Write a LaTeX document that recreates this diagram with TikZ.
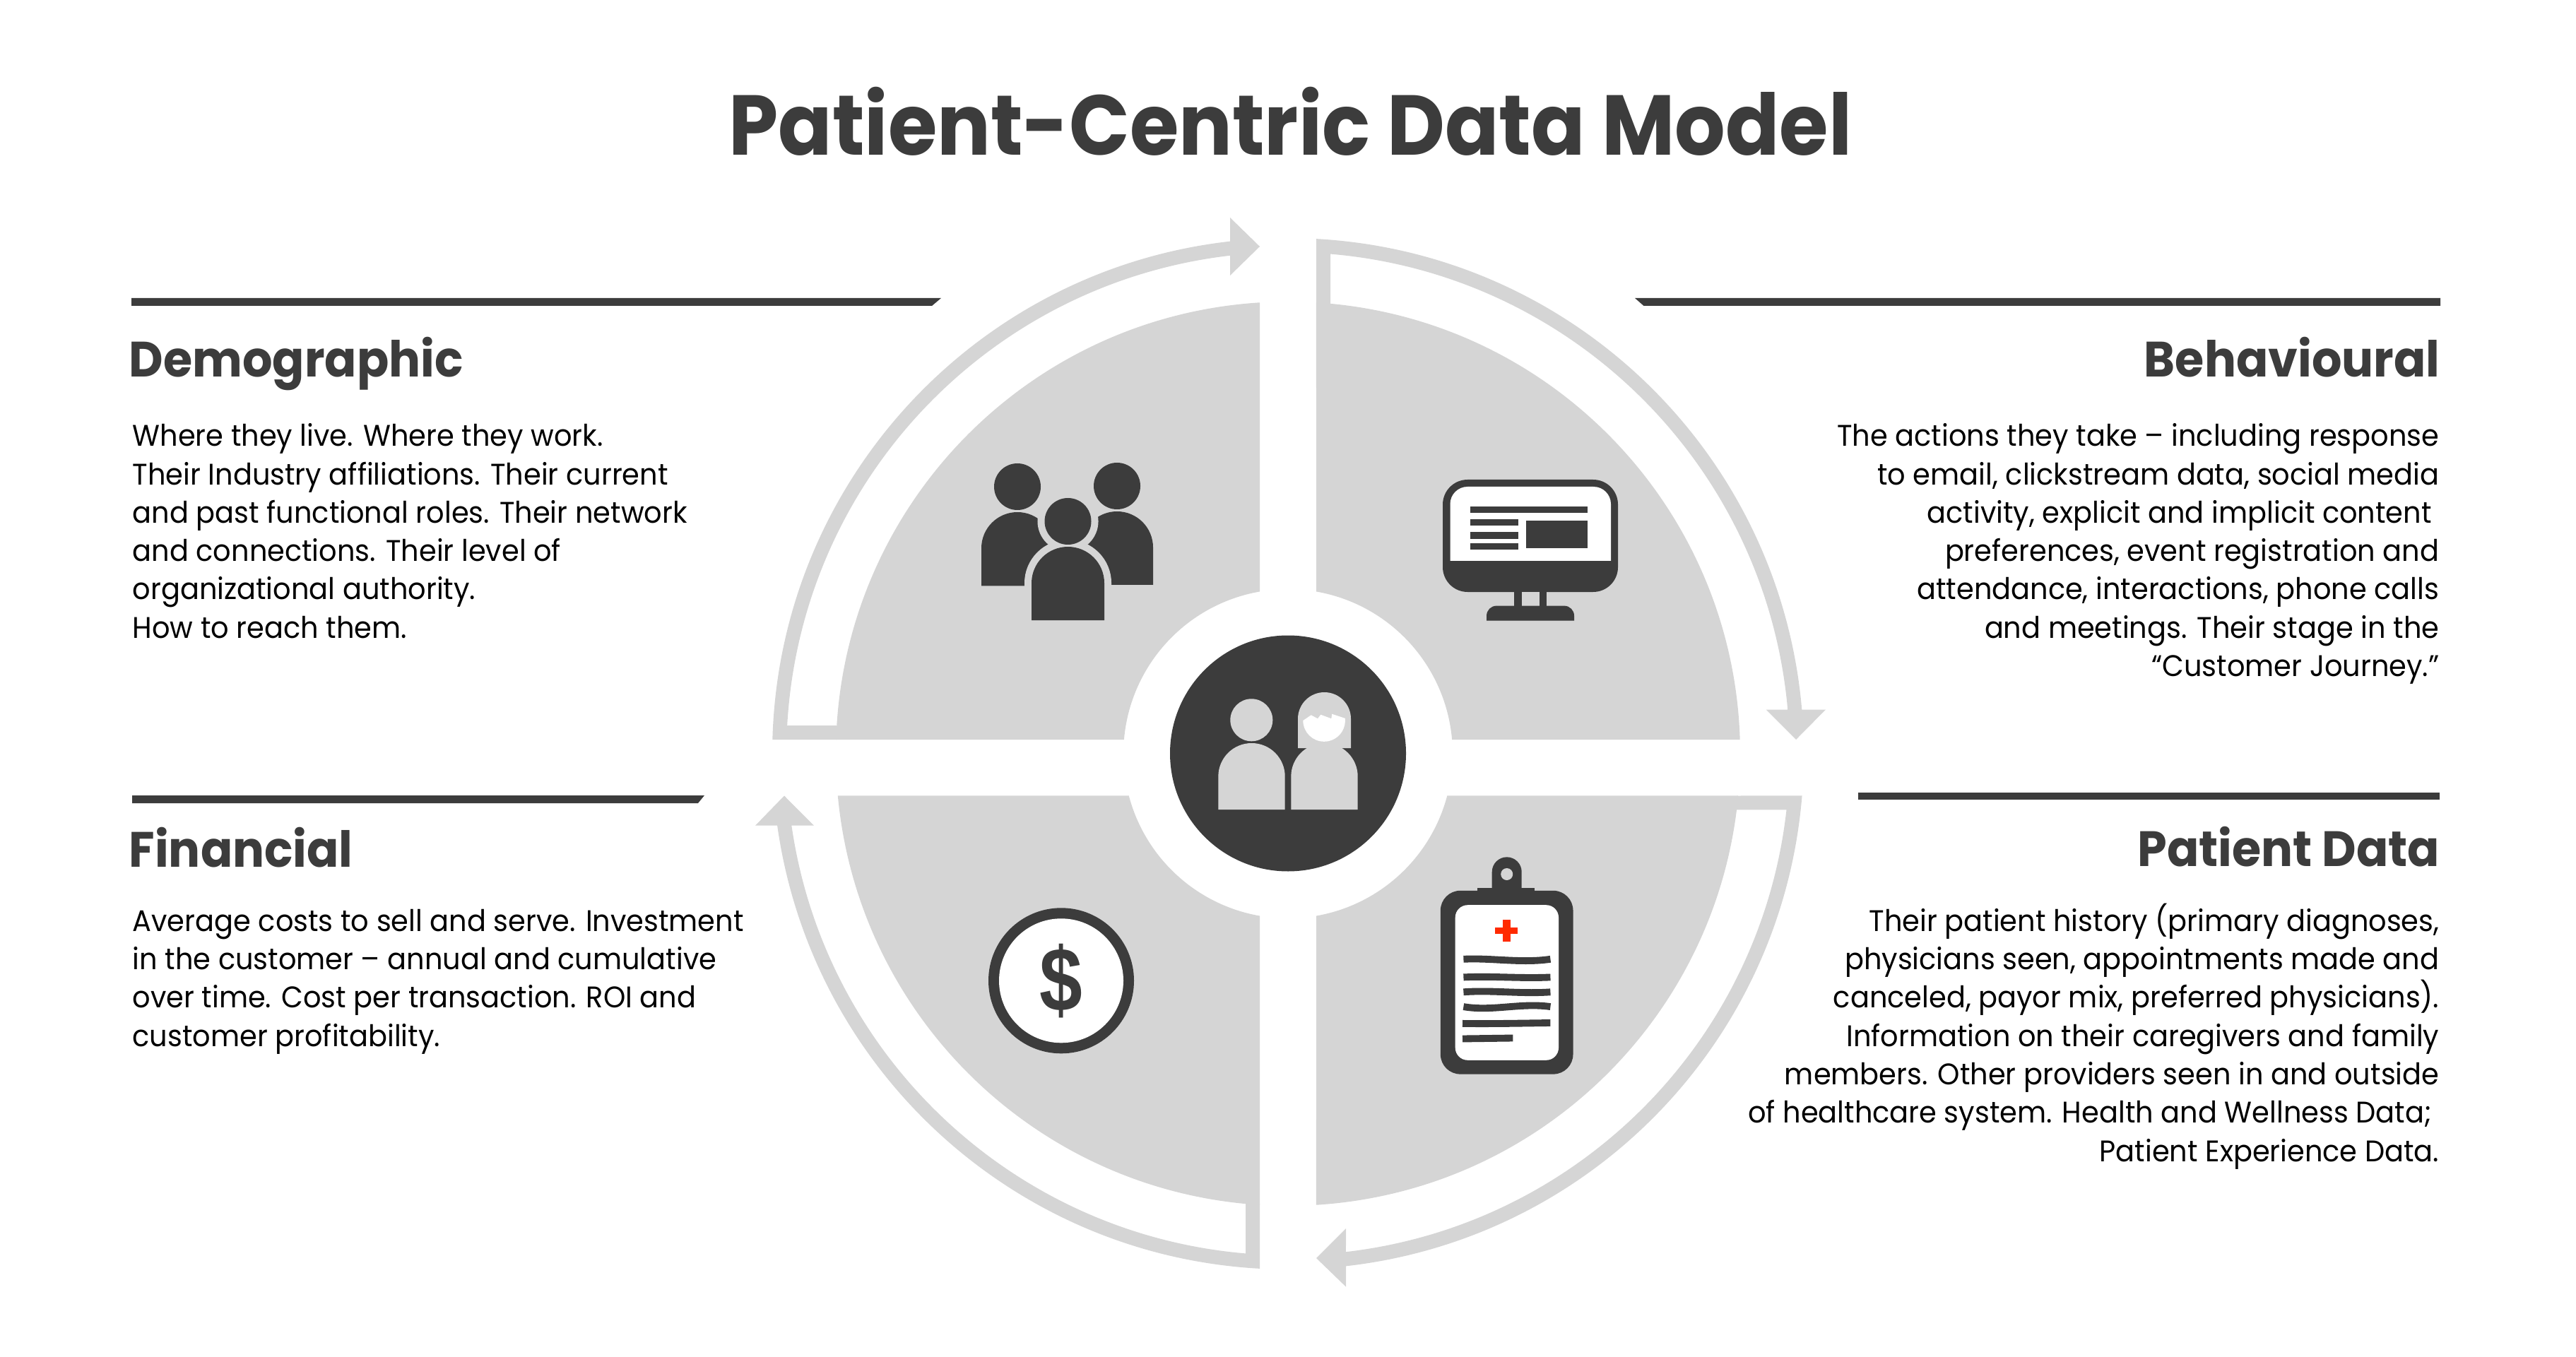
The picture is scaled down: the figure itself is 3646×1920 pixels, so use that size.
\documentclass[tikz,border=0pt]{standalone}
\usepackage{graphicx}
\usepackage{fontspec}
\setmainfont{Poppins}[FakeStretch=0.945]
\newfontfamily\headfont{Poppins}[FakeStretch=0.95]
\newfontfamily\titlefont{Poppins}[FakeStretch=0.936]
\usetikzlibrary{positioning}
\definecolor{ink}{HTML}{3C3C3C}
\definecolor{pale}{HTML}{D5D5D5}
\definecolor{crossred}{HTML}{FF2A00}
\newcommand{\domepath}[4]{(#1-#3,#4) -- (#1-#3,#2-#3) arc[start angle=180,end angle=0,radius=#3] -- (#1+#3,#4) -- cycle}
\newcommand{\bodystrut}{\rule{0pt}{13pt}}
\newcommand{\tailgap}{\rule{3pt}{0pt}}

\begin{document}
\begin{tikzpicture}[
  x=0.01cm, y=0.01cm,
  titletext/.style={font=\titlefont\bfseries\fontsize{34.2pt}{40pt}\selectfont, text=ink, inner sep=0pt, anchor=base},
  headleft/.style={font=\headfont\bfseries\fontsize{20pt}{24pt}\selectfont, text=ink, inner sep=0pt, anchor=base west},
  headright/.style={headleft, anchor=base east},
  bodyleft/.style={font=\fontsize{12pt}{15.44pt}\selectfont, inner sep=0pt, align=left, anchor=north west},
  bodyright/.style={bodyleft, align=right, anchor=north east},
  halo/.style={line width=5.7pt, draw=pale},
  wavy/.style={draw=ink, line width=2.8pt}
]
  \useasboundingbox (0,0) rectangle (3646,1920);

  % title
  \node[titletext] (title) at (1826.5,1700) {Patient-Centric Data Model};

  % --- wheel: quadrants and ring arrows, around the centre disc
  \begin{scope}[shift={(1823,853)}]
    % top left
    \fill[pale] (93.58:640) arc[start angle=93.58,end angle=178.21,radius=640]
      -- (175.08:233) arc[start angle=175.08,end angle=99.89,radius=233] -- cycle;
    \fill[pale] (178.43:730) arc[start angle=178.43,end angle=96.45,radius=730]
      -- (-82,759) -- (-40,718) -- (-82,677)
      -- (96.63:710) arc[start angle=96.63,end angle=176.77,radius=710]
      -- (-639,40) -- (-639,20) -- cycle;
    % top right
    \fill[pale] (86.42:640) arc[start angle=86.42,end angle=1.79,radius=640]
      -- (4.92:233) arc[start angle=4.92,end angle=80.11,radius=233] -- cycle;
    \fill[pale] (86.86:730) arc[start angle=86.86,end angle=4.91,radius=730]
      -- (761,62.5) -- (719,20) -- (676.5,62.5)
      -- (5.05:710) arc[start angle=5.05,end angle=85.15,radius=710]
      -- (60,637) -- (40,637) -- cycle;
    % bottom right
    \fill[pale] (354.67:640) arc[start angle=354.67,end angle=273.58,radius=640]
      -- (279.89:233) arc[start angle=279.89,end angle=345.21,radius=233] -- cycle;
    \fill[pale] (355.33:730) arc[start angle=355.33,end angle=276.45,radius=730]
      -- (82,-754.6) -- (40,-714) -- (82,-672)
      -- (276.63:710) arc[start angle=276.63,end angle=353.58,radius=710]
      -- (635,-79.4) -- (635,-59.5) -- cycle;
    % bottom left
    \fill[pale] (185.33:640) arc[start angle=185.33,end angle=266.42,radius=640]
      -- (260.11:233) arc[start angle=260.11,end angle=194.79,radius=233] -- cycle;
    \fill[pale] (266.86:730) arc[start angle=266.86,end angle=188.01,radius=730]
      -- (-671,-101.7) -- (-713,-59.5) -- (-754,-101.7)
      -- (188.24:710) arc[start angle=188.24,end angle=265.15,radius=710]
      -- (-60,-637) -- (-40,-637) -- cycle;
    % centre disc
    \fill[ink] (0,0.5) circle[radius=167];
  \end{scope}

  % --- icon: couple in the disc
  \fill[pale] (1771.3,900.7) circle[radius=30];
  \fill[pale] \domepath{1771.5}{868}{47.2}{774};
  \fill[pale] \domepath{1874.5}{940}{37.5}{861};
  \fill[pale] \domepath{1874.5}{868}{47.2}{774};
  \fill[white] (1844.3,900) arc[start angle=180,end angle=366,radius=29.8]
    -- (1885.3,909.3) -- (1884.3,902.7) -- (1869.3,908.3) -- (1865,902.7) -- (1855.7,907.7) -- cycle;

  % --- icon: three people
  \fill[ink] (1440,1231) circle[radius=33];
  \fill[ink] (1581,1232) circle[radius=33];
  \fill[ink] \domepath{1440}{1195}{51}{1090.5};
  \fill[ink] \domepath{1581}{1196}{51}{1092};
  \draw[halo] (1511.5,1182) circle[radius=33];
  \draw[halo] \domepath{1511.5}{1146}{51.5}{1042};
  \fill[ink] (1511.5,1182) circle[radius=33];
  \fill[ink] \domepath{1511.5}{1146}{51.5}{1042};

  % --- icon: monitor
  \fill[ink, rounded corners=10pt] (2042,1241) rectangle (2290,1082);
  \fill[white] (2052.5,1126) [rounded corners=7pt] -- (2052.5,1231) -- (2280,1231) [sharp corners] -- (2280,1126) -- cycle;
  \fill[ink] (2080.6,1203.3) rectangle (2247,1193.6);
  \fill[ink] (2080.6,1185.4) rectangle (2148.5,1175.7);
  \fill[ink] (2080.6,1166.5) rectangle (2148.5,1157);
  \fill[ink] (2080.6,1151.2) rectangle (2148.5,1141.5);
  \fill[ink] (2160,1183.4) rectangle (2247.4,1144);
  \fill[ink] (2143.4,1082) rectangle (2188.8,1062);
  \fill[pale] (2153.6,1082) rectangle (2179,1062.4);
  \fill[ink] (2104,1041.5) [rounded corners=4pt] -- (2104,1062.4) -- (2228,1062.4) [sharp corners] -- (2228,1041.5) -- cycle;

  % --- icon: dollar coin
  \fill[ink] (1502,531.7) circle[radius=103];
  \fill[white] (1502,531.7) circle[radius=88];
  \node[font=\fontspec{Liberation Sans}\bfseries\fontsize{36.5pt}{36.5pt}\selectfont, text=ink, inner sep=0pt] (dollar) at (1502,531) {\scalebox{0.85}[1]{\$}};

  % --- icon: clipboard
  \fill[ink, rounded corners=8pt] (2038.8,659.2) rectangle (2226.5,399.4);
  \fill[white, rounded corners=5pt] (2059.7,638.8) rectangle (2206,419.2);
  \fill[ink] (2090.8,663) rectangle (2172.4,657);
  \fill[ink] \domepath{2132.7}{706.7}{21}{659};
  \fill[pale] (2132.7,682.5) circle[radius=8.5];
  \fill[crossred] (2126.5,618) rectangle (2137.8,587);
  \fill[crossred] (2116,607.3) rectangle (2148,597.6);
  \foreach \ya/\da/\db in {562.2/2/-6, 536.6/2/-2, 515.7/3/-3, 494.9/-7/6}
    \draw[wavy] (2071.4,\ya) .. controls (2112,\ya+\da) and (2153,\ya+\db) .. (2194.4,\ya);
  \draw[wavy] (2070,471.1) .. controls (2112,470.5) and (2153,471.5) .. (2194.4,472);
  \draw[wavy] (2070,449.5) -- (2141.3,450.5);

  % --- block: Demographic
  \fill[ink] (186,1498) -- (1332,1498) -- (1319,1487) -- (186,1487) -- cycle;
  \node[headleft] (demohead) at (182,1386) {Demographic};
  \node[bodyleft] (demobody) at (187,1334.7) {\bodystrut Where they live. Where they work.\\
    Their Industry affiliations. Their current\\
    and past functional roles. Their network\\
    and connections. Their level of\\
    organizational authority.\\
    How to reach them.};

  % --- block: Behavioural
  \fill[ink] (3454,1498) -- (2314,1498) -- (2326.5,1487) -- (3454,1487) -- cycle;
  \node[headright] (behavehead) at (3454,1386) {Behavioural};
  \node[bodyright] (behavebody) at (3453,1334.7) {\bodystrut The actions they take – including response\\
    to email, clickstream data, social media\\
    activity, explicit and implicit content\tailgap\\
    preferences, event registration and\\
    attendance, interactions, phone calls\\
    and meetings. Their stage in the\\
    “Customer Journey.”};

  % --- block: Financial
  \fill[ink] (187,794) -- (997,794) -- (988,783) -- (187,783) -- cycle;
  \node[headleft] (financehead) at (182,693) {Financial};
  \node[bodyleft] (financebody) at (187,648.2) {\bodystrut Average costs to sell and serve. Investment\\
    in the customer – annual and cumulative\\
    over time. Cost per transaction. ROI and\\
    customer profitability.};

  % --- block: Patient Data
  \fill[ink] (2630,798) rectangle (3453,788);
  \node[headright] (patienthead) at (3454,694) {Patient Data};
  \node[bodyright] (patientbody) at (3453,648.2) {\bodystrut Their patient history (primary diagnoses,\\
    physicians seen, appointments made and\\
    canceled, payor mix, preferred physicians).\\
    Information on their caregivers and family\\
    members. Other providers seen in and outside\\
    of healthcare system. Health and Wellness Data;\tailgap\\
    Patient Experience Data.};
\end{tikzpicture}
\end{document}
